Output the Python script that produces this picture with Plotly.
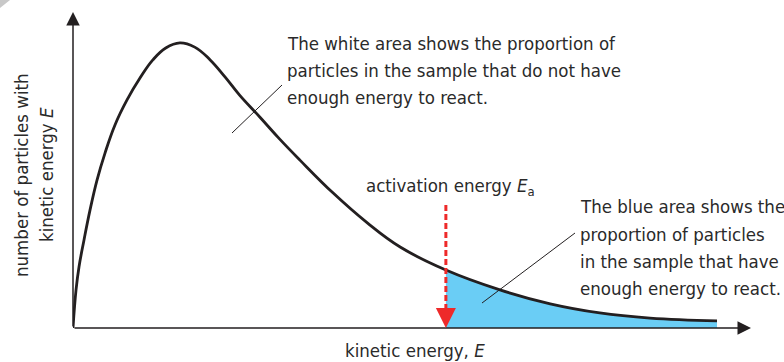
import plotly.graph_objects as go

# ---- data (arbitrary units) ----
energy = [0, 0.47, 0.93, 1.71, 2.64, 3.73, 4.97, 6.52, 8.39, 10.4, 12.4, 14.4, 16.6,
          18.9, 21.3, 23.6, 25.9, 29.0, 32.1, 35.2, 40.4, 45.7, 50.8, 57.9, 66.3, 74.1,
          81.8, 89.6, 100]
particles = [0, 13.4, 21.5, 31.0, 41.5, 52.1, 61.6, 71.5, 80.3, 88.0, 94.4, 98.6, 100.4,
             98.9, 94.4, 88.4, 81.9, 74.3, 66.5, 59.2, 47.5, 37.0, 28.5, 20.4, 13.4, 8.5,
             5.3, 3.5, 2.5]
activation_energy = 57.9

white_text = ["The white area shows the proportion of",
              "particles in the sample that do not have",
              "enough energy to react."]
blue_text = ["The blue area shows the",
             "proportion of particles",
             "in the sample that have",
             "enough energy to react."]
ea_label = "activation energy <i>E</i><sub>a</sub>"
x_title = "kinetic energy, <i>E</i>"
y_title = ["number of particles with", "kinetic energy <i>E</i>"]

# ---- layout geometry ----
WIDTH, HEIGHT = 784, 362
ML, MR, MT, MB = 73, 1, 2, 34
W = WIDTH - ML - MR
H = HEIGHT - MT - MB
PX_PER_E = 6.44
PX_PER_N = 2.84
XMAX = W / PX_PER_E
YMAX = H / PX_PER_N
BOTTOM = HEIGHT - MB


def px(x):  # pixel -> paper x
    return (x - ML) / W


def py(y):  # pixel -> paper y
    return (BOTTOM - y) / H


def dx(x):  # pixel -> data x
    return (x - ML) / PX_PER_E


def dy(y):  # pixel -> data y
    return (BOTTOM - y) / PX_PER_N


FONT = "DejaVu Sans Condensed, Lato, sans-serif"
TXT = "#2a2a2a"
FS = 18.5

hot_e = [e for e in energy if e >= activation_energy]
hot_n = [n for e, n in zip(energy, particles) if e >= activation_energy]

fig = go.Figure()
fig.add_trace(go.Scatter(x=hot_e, y=hot_n, mode="lines", fill="tozeroy",
                         fillcolor="#6ACDF5", line=dict(width=0, shape="spline", smoothing=1.2),
                         hoverinfo="skip", showlegend=False))
fig.add_trace(go.Scatter(x=energy, y=particles, mode="lines",
                         line=dict(color="#231F20", width=2.8, shape="spline", smoothing=1.2),
                         showlegend=False))

shapes = []
# red dashed activation-energy line
shapes.append(dict(type="line", xref="x", yref="y", x0=activation_energy, x1=activation_energy,
                   y0=dy(205), y1=dy(316), line=dict(color="#EE2A2A", width=3, dash="6px,3px")))
# pointer lines
shapes.append(dict(type="line", xref="paper", yref="paper", x0=px(232), y0=py(133),
                   x1=px(282), y1=py(85), line=dict(color="#231F20", width=1)))
shapes.append(dict(type="line", xref="paper", yref="paper", x0=px(482), y0=py(303),
                   x1=px(575), y1=py(233), line=dict(color="#231F20", width=1)))
# page corner
shapes.append(dict(type="path", xref="paper", yref="paper",
                   path=f"M{px(0)},{py(0)} L{px(10)},{py(0)} L{px(0)},{py(8)} Z",
                   fillcolor="#c8c8c8", line=dict(width=0)))

ann = []
# axes with arrows
ann.append(dict(x=dx(751), y=0, ax=0, ay=0, xref="x", yref="y", axref="x", ayref="y",
                text="", showarrow=True, arrowhead=2, arrowsize=1.8, arrowwidth=1.5,
                arrowcolor="#231F20", standoff=0))
ann.append(dict(x=0, y=dy(12), ax=0, ay=0, xref="x", yref="y", axref="x", ayref="y",
                text="", showarrow=True, arrowhead=2, arrowsize=1.8, arrowwidth=1.5,
                arrowcolor="#231F20", standoff=0))
# red arrow head
ann.append(dict(x=activation_energy, y=0, ax=activation_energy, ay=dy(312),
                xref="x", yref="y", axref="x", ayref="y",
                text="", showarrow=True, arrowhead=2, arrowsize=1.6, arrowwidth=2.5,
                arrowcolor="#EE2A2A", standoff=0))

for i, line in enumerate(white_text):
    ann.append(dict(x=px(285), y=py(43.5 + 27 * i), xref="paper", yref="paper", text=line,
                    showarrow=False, xanchor="left", yanchor="middle",
                    font=dict(family=FONT, size=FS, color=TXT)))
for i, line in enumerate(blue_text):
    ann.append(dict(x=px(578), y=py(207 + 27 * i), xref="paper", yref="paper", text=line,
                    showarrow=False, xanchor="left", yanchor="middle",
                    font=dict(family=FONT, size=FS, color=TXT)))
ann.append(dict(x=px(364), y=py(187), xref="paper", yref="paper", text=ea_label,
                showarrow=False, xanchor="left", yanchor="middle",
                font=dict(family=FONT, size=FS, color=TXT)))
ann.append(dict(x=px(415), y=py(350), xref="paper", yref="paper", text=x_title,
                showarrow=False, xanchor="center", yanchor="middle",
                font=dict(family=FONT, size=FS, color=TXT)))
for i, line in enumerate(y_title):
    ann.append(dict(x=px(21 + 25 * i), y=py(175), xref="paper", yref="paper", text=line,
                    showarrow=False, xanchor="center", yanchor="middle", textangle=-90,
                    font=dict(family=FONT, size=FS, color=TXT)))

fig.update_layout(
    width=WIDTH, height=HEIGHT,
    margin=dict(l=ML, r=MR, t=MT, b=MB),
    paper_bgcolor="white", plot_bgcolor="white",
    xaxis=dict(range=[0, XMAX], visible=False, fixedrange=True),
    yaxis=dict(range=[0, YMAX], visible=False, fixedrange=True),
    shapes=shapes, annotations=ann, showlegend=False,
)
fig.write_html("out.html", config={"displayModeBar": False},
               post_script="document.body.style.margin='0';document.body.style.padding='0';")
